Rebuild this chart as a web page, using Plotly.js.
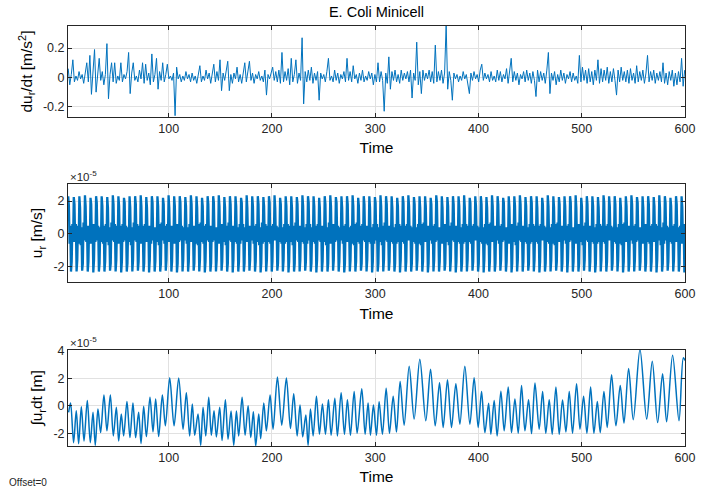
<!DOCTYPE html>
<html><head><meta charset="utf-8">
<script src="https://cdn.plot.ly/plotly-3.0.1.min.js"></script>
<style>html,body{margin:0;padding:0;background:#fff}#chart{width:710px;height:488px}</style>
</head><body><div id="chart"></div>
<script>
// ---------------- data ----------------
const chartTitle = "E. Coli Minicell";
const xTickVals = [100, 200, 300, 400, 500, 600];
const xTickText = ["100", "200", "300", "400", "500", "600"];
const accelTickVals = [-0.2, 0, 0.2];
const accelTickText = ["-0.2", "0", "0.2"];
const velTickVals = [-2, 0, 2];
const velTickText = ["-2", "0", "2"];
const posTickVals = [-2, 0, 2, 4];
const posTickText = ["-2", "0", "2", "4"];

// du_r/dt [m/s^2], sampled from t = 2.7 s every 1.5 s
const accelStart = 2.7, accelStep = 1.5;
const accel = [
 .06,-.05,.02,.12,-.03,.01,-.02,.04,-.01,.02,-.04,.02,.1,-.03,.15,-.115,.03,.19,-.1,.02,
 .13,-.02,.04,-.05,.02,.23,-.145,.02,.1,-.03,.1,-.04,.01,-.02,.1,-.03,.02,-.01,.04,.17,
 -.11,.03,.1,-.02,.01,-.03,.05,-.01,.1,-.04,.09,-.02,.03,-.05,.16,-.03,.02,.13,-.08,.04,
 -.02,.1,-.03,.02,.09,-.01,.01,-.02,.03,-.26,.07,-.01,.02,-.03,.01,-.02,.04,-.01,.02,-.03,
 .03,-.02,.01,-.04,.02,.08,-.03,.01,-.02,.05,-.01,.03,-.04,.02,.09,-.03,.04,-.02,.12,-.09,
 .03,-.02,.05,.11,-.09,.02,-.04,.03,-.01,.07,-.03,.02,-.04,.05,.1,-.03,.04,.11,-.02,.03,
 -.04,.02,-.01,.04,-.02,.01,-.03,.05,-.12,.02,-.01,.03,.07,-.02,.04,-.03,.05,-.04,.17,-.03,
 .04,-.02,.06,-.05,.13,-.03,.02,.12,-.04,.03,-.02,.27,-.18,.04,-.03,.05,-.02,.07,-.04,.03,
 -.02,.04,-.155,.03,-.01,.02,-.03,.04,.13,-.02,.01,-.03,.05,-.02,.03,-.04,.02,-.01,.04,-.03,
 .13,-.02,.04,-.03,.08,-.01,.02,-.04,.03,-.02,.05,-.03,.01,-.02,.04,-.01,.03,-.05,.02,-.03,
 .1,-.03,.04,-.02,-.23,.03,-.04,.14,-.08,.04,-.02,.05,-.03,.02,-.04,.05,-.02,.03,-.01,.04,
 -.03,.05,-.14,.03,-.02,.24,-.05,.04,-.11,.05,-.02,.03,-.01,.05,-.03,.04,-.04,.22,-.03,.04,
 -.02,.05,-.04,.03,.36,-.08,.04,-.02,-.155,.03,-.01,.02,-.03,.01,-.02,.04,-.01,.02,-.04,-.11,
 .03,-.02,.04,-.01,.02,-.03,.05,.09,-.02,.03,-.01,.02,-.03,.04,-.02,.01,-.03,.05,-.02,.04,
 -.03,.02,-.01,.06,-.04,.03,.13,-.03,.04,-.02,.03,-.05,.02,-.01,.04,-.03,.05,-.02,.03,-.04,
 .04,-.02,-.13,.05,-.03,.04,-.02,.03,-.04,.05,.17,-.11,.03,-.02,.04,-.05,.02,-.03,.05,-.02,
 .03,-.04,.02,-.01,.04,-.03,.03,-.02,.01,-.04,.15,-.03,.07,-.02,.05,-.04,.06,-.03,.04,-.05,
 .05,-.02,.12,-.04,.06,-.03,.05,-.02,.07,-.04,.04,-.03,.06,-.02,-.12,.05,-.03,.07,-.02,.04,
 -.03,.05,-.04,.06,-.02,.03,-.04,.08,-.03,.04,-.02,.05,-.04,.03,.15,-.03,.04,-.02,.05,-.04,
 .03,-.02,.04,-.03,.1,-.04,.03,-.05,.04,-.02,.05,-.06,.03,-.05,.04,-.03,.13,-.06,.05
];

// u_r [x1e-5 m/s], sampled from t = 2.7 s every 0.675 s
const velStart = 2.7, velStep = 0.675;
const velocity_e5 = [
 2.3,1.7,-.6,.5,-2.3,-1.7,.6,-.5, 2.25,1.8,-.5,.6,-2.3,-1.6,.5,-.6, 2.3,1.6,-.7,.4,-2.25,-1.8,.7,-.4, 2.35,1.7,-.5,.5,-2.3,-1.7,.5,-.6,
 2.2,1.8,-.6,.6,-2.35,-1.6,.6,-.5, 2.3,1.9,-.4,.5,-2.3,-1.8,.4,-.5, 2.3,1.7,-.6,.5,-2.3,-1.7,.6,-.5, 2.25,1.6,-.7,.4,-2.25,-1.8,.7,-.4,
 2.35,1.8,-.5,.6,-2.3,-1.6,.5,-.6, 2.3,1.7,-.6,.5,-2.35,-1.7,.6,-.5, 2.2,1.9,-.4,.5,-2.3,-1.8,.4,-.5, 2.3,1.6,-.7,.4,-2.3,-1.6,.7,-.4,
 2.3,1.8,-.5,.6,-2.25,-1.7,.5,-.6, 2.35,1.7,-.6,.5,-2.3,-1.8,.6,-.5, 2.25,1.6,-.5,.5,-2.35,-1.6,.5,-.6, 2.3,1.9,-.4,.4,-2.3,-1.7,.4,-.5,
 2.3,1.7,-.7,.6,-2.3,-1.8,.7,-.4, 2.2,1.8,-.6,.5,-2.25,-1.6,.6,-.5, 2.35,1.6,-.5,.5,-2.3,-1.7,.5,-.6, 2.3,1.7,-.6,.6,-2.35,-1.8,.6,-.5,
 2.3,1.9,-.4,.5,-2.3,-1.6,.4,-.4, 2.25,1.7,-.6,.4,-2.3,-1.7,.6,-.5, 2.35,1.8,-.5,.5,-2.25,-1.8,.5,-.6, 2.3,1.6,-.7,.6,-2.3,-1.6,.7,-.5,
 2.2,1.7,-.6,.5,-2.35,-1.7,.6,-.4, 2.3,1.8,-.5,.5,-2.3,-1.8,.5,-.5, 2.3,1.9,-.4,.4,-2.3,-1.6,.4,-.6, 2.35,1.7,-.6,.6,-2.25,-1.7,.6,-.5,
 2.25,1.6,-.7,.5,-2.3,-1.8,.7,-.4, 2.3,1.8,-.5,.5,-2.35,-1.6,.5,-.5, 2.3,1.7,-.6,.4,-2.3,-1.7,.6,-.6, 2.2,1.9,-.4,.6,-2.3,-1.8,.4,-.5,
 2.35,1.6,-.5,.5,-2.25,-1.6,.5,-.4, 2.3,1.7,-.6,.5,-2.3,-1.7,.6,-.5, 2.3,1.8,-.7,.4,-2.35,-1.8,.7,-.6, 2.25,1.7,-.5,.6,-2.3,-1.6,.5,-.5,
 2.3,1.9,-.6,.5,-2.3,-1.7,.6,-.4, 2.35,1.6,-.4,.5,-2.25,-1.8,.4,-.5, 2.2,1.8,-.6,.4,-2.3,-1.6,.6,-.6, 2.3,1.7,-.5,.6,-2.35,-1.7,.5,-.5,
 2.3,1.6,-.7,.5,-2.3,-1.8,.7,-.4, 2.25,1.8,-.5,.5,-2.3,-1.6,.5,-.5, 2.35,1.7,-.6,.4,-2.25,-1.7,.6,-.6, 2.3,1.9,-.4,.6,-2.3,-1.8,.4,-.5,
 2.3,1.7,-.6,.5,-2.35,-1.6,.6,-.4, 2.2,1.6,-.5,.5,-2.3,-1.7,.5,-.5, 2.3,1.8,-.7,.4,-2.3,-1.8,.7,-.6, 2.35,1.7,-.6,.6,-2.25,-1.6,.6,-.5,
 2.25,1.9,-.4,.5,-2.3,-1.7,.4,-.4, 2.3,1.6,-.6,.5,-2.35,-1.8,.6,-.5, 2.3,1.8,-.5,.4,-2.3,-1.6,.5,-.6, 2.35,1.7,-.7,.6,-2.3,-1.7,.7,-.5,
 2.2,1.7,-.6,.5,-2.25,-1.8,.6,-.4, 2.3,1.8,-.5,.5,-2.3,-1.6,.5,-.5, 2.3,1.6,-.6,.4,-2.35,-1.7,.6,-.6, 2.25,1.9,-.4,.6,-2.3,-1.8,.4,-.5,
 2.35,1.7,-.7,.5,-2.3,-1.6,.7,-.4, 2.3,1.8,-.5,.5,-2.25,-1.7,.5,-.5, 2.3,1.6,-.6,.4,-2.3,-1.8,.6,-.6, 2.2,1.7,-.5,.6,-2.35,-1.6,.5,-.5,
 2.3,1.9,-.6,.5,-2.3,-1.7,.6,-.4, 2.35,1.7,-.4,.5,-2.3,-1.8,.4,-.5, 2.25,1.8,-.6,.4,-2.25,-1.6,.6,-.6, 2.3,1.6,-.7,.6,-2.3,-1.7,.7,-.5,
 2.3,1.7,-.5,.5,-2.35,-1.8,.5,-.4, 2.2,1.8,-.6,.5,-2.3,-1.6,.6,-.5, 2.35,1.9,-.4,.4,-2.3,-1.7,.4,-.6, 2.3,1.6,-.6,.6,-2.25,-1.8,.6,-.5,
 2.25,1.7,-.7,.5,-2.3,-1.6,.7,-.4, 2.3,1.8,-.5,.5,-2.35,-1.7,.5,-.5, 2.3,1.7,-.6,.4,-2.3,-1.8,.6,-.6, 2.35,1.6,-.5,.6,-2.3,-1.6,.5,-.5,
 2.2,1.9,-.6,.5,-2.25,-1.7,.6,-.4, 2.3,1.7,-.4,.5,-2.3,-1.8,.4,-.5, 2.3,1.8,-.6,.4,-2.35,-1.6,.6,-.6, 2.25,1.6,-.7,.6,-2.3,-1.7,.7,-.5,
 2.35,1.7,-.5,.5,-2.3,-1.8,.5,-.4, 2.3,1.8,-.6,.5,-2.25,-1.6,.6,-.5, 2.2,1.9,-.4,.4,-2.3,-1.7,.4,-.6, 2.3,1.6,-.6,.6,-2.35,-1.8,.6,-.5,
 2.3,1.7,-.7,.5,-2.3,-1.6,.7,-.4, 2.35,1.8,-.5,.5,-2.3,-1.7,.5,-.5, 2.25,1.7,-.6,.4,-2.25,-1.8,.6,-.6, 2.3,1.9,-.5,.6,-2.3,-1.6,.5,-.5,
 2.3,1.6,-.6,.5,-2.35,-1.7,.6,-.4, 2.2,1.8,-.4,.5,-2.3,-1.8,.4,-.5, 2.35,1.7,-.6,.4,-2.3,-1.6,.6,-.6, 2.3,1.6,-.7,.6,-2.25,-1.7,.7,-.5,
 2.25,1.8,-.5,.5,-2.3,-1.8,.5,-.4, 2.3,1.7,-.6,.5,-2.35,-1.6,.6,-.5, 2.3,1.9,-.4,.4,-2.3,-1.7,.4,-.6, 2.35,1.6,-.6,.6,-2.3,-1.8,.6,-.5,
 2.2,1.7,-.7,.5,-2.25,-1.6,.7,-.4, 2.3,1.8,-.5,.5,-2.3,-1.7,.5,-.5, 2.3,1.7,-.6,.4,-2.35,-1.8,.6,-.6, 2.25,1.6,-.5,.6,-2.3,-1.6,.5,-.5,
 2.35,1.9,-.6,.5,-2.3,-1.7,.6,-.4, 2.3,1.7,-.4,.5,-2.25,-1.8,.4,-.5, 2.3,1.8,-.6,.4,-2.3,-1.6,.6,-.6, 2.2,1.6,-.7,.6,-2.35,-1.7,.7,-.5,
 2.3,1.7,-.5,.5,-2.3,-1.8,.5,-.4, 2.35,1.8,-.6,.5,-2.3,-1.6,.6,-.5, 2.25,1.9,-.4,.4,-2.25,-1.7,.4,-.6, 2.3,1.6,-.6,.6,-2.3,-1.8,.6,-.5,
 2.3,1.8,-.6,.5,-2.3,-1.7,.6,-.5, 2.25,1.7,-.5,.6,-2.35,-1.6,.5,-.4, 2.35,1.6,-.7,.4,-2.3,-1.8,.7,-.6, 2.3,1.9,-.4,.5,-2.25,-1.7,.4,-.5,
 2.2,1.7,-.6,.5,-2.3,-1.6,.6,-.5, 2.3,1.8,-.5,.4,-2.3,-1.8,.5,-.6, 2.3,1.6,-.6,.6,-2.35,-1.7,.6,-.4, 2.35,1.7,-.7,.5,-2.3,-1.6,.7,-.5
];

// ∫u_r dt [x1e-5 m]: successive extremes (time [s], value)
const posTime = [
 3.1,5.0,7.9,10.5,12.8,15.4,18.0,21.2,24.1,26.7,28.9,31.5,34.1,37.3,40.2,43.5,46.4,49.3,51.6,54.1,
 56.4,59.6,62.5,65.4,68.0,70.9,73.2,75.8,78.4,81.9,84.8,87.4,90.3,93.9,96.8,101.0,105.2,109.7,113.9,117.1,
 120.3,122.9,125.2,128.4,131.0,133.3,135.9,138.8,141.3,143.9,146.2,149.4,151.7,154.9,157.5,160.4,163.0,165.6,167.8,171.1,
 174.0,176.9,179.5,182.0,184.3,187.2,189.1,192.1,194.6,198.2,201.1,205.3,209.5,214.0,217.9,221.1,224.4,227.2,229.8,232.8,
 235.0,237.3,239.9,243.1,246.0,248.9,251.8,254.7,257.3,260.9,263.4,267.0,270.2,273.1,276.0,279.6,282.5,287.0,290.2,293.1,
 295.4,298.3,301.2,303.8,307.0,310.6,313.8,317.4,320.6,324.1,328.0,332.9,337.7,343.2,349.0,353.6,358.1,362.3,365.8,370.0,
 373.9,378.1,382.0,386.8,391.7,395.8,399.7,403.0,406.2,409.8,412.0,415.2,418.1,421.7,424.9,428.8,432.0,435.3,438.5,441.7,
 445.0,448.5,451.4,454.7,458.8,462.1,465.2,468.5,471.4,475.0,478.2,481.4,484.7,487.9,491.1,495.0,498.3,501.8,505.0,508.6,
 511.8,515.1,517.9,521.5,524.7,528.9,533.1,537.3,540.9,545.4,549.9,556.4,562.9,568.3,573.5,578.3,582.2,588.0,594.2,598.4,
 600.0
];
const position_e5 = [
 -0.46,0.22,-2.66,-0.34,-2.73,-0.05,-2.54,0.39,-2.66,-0.46,-2.85,-0.22,-1.93,0.80,-1.80,0.80,-2.17,-0.10,-2.54,-0.59,
 -2.17,0.32,-2.29,0.22,-2.29,-0.46,-2.73,-0.02,-2.22,0.63,-1.88,0.51,-2.22,0.80,-1.44,2.05,-1.44,2.02,-1.68,0.95,
 -2.17,0.15,-2.12,-0.59,-2.85,-0.10,-2.17,0.63,-2.12,-0.34,-2.24,-0.10,-2.50,0.46,-2.41,-0.37,-2.85,-0.37,-2.17,0.63,
 -2.12,0.02,-2.29,-0.41,-2.90,-0.59,-2.37,0.22,-1.80,0.80,-1.68,2.10,-1.39,2.02,-1.63,0.88,-2.17,0.07,-2.24,-0.66,
 -2.85,-0.22,-2.17,0.71,-2.05,0.15,-2.05,0.46,-2.12,0.56,-2.17,0.95,-2.05,0.46,-2.12,1.05,-1.98,1.24,-2.05,0.22,
 -2.12,0.07,-2.12,0.30,-2.05,1.29,-1.98,0.71,-1.88,1.78,-1.39,2.88,-0.95,3.39,-1.07,2.66,-1.44,1.68,-1.56,1.90,
 -1.56,1.61,-1.32,2.88,-1.32,2.05,-1.56,1.05,-1.93,0.20,-2.05,0.39,-2.17,1.07,-1.80,1.37,-1.93,0.51,-1.98,1.49,
 -1.80,0.46,-2.00,1.66,-1.68,1.05,-1.98,0.46,-2.05,1.37,-2.05,0.44,-1.88,1.05,-1.98,1.61,-1.68,0.71,-1.98,1.37,
 -1.98,0.32,-1.93,1.05,-1.56,2.27,-1.44,1.49,-1.24,2.71,-1.00,4.10,-0.95,3.24,-1.20,2.34,-1.15,3.68,-1.07,3.49,
 3.30
];

// ---------------- chart ----------------
const FONT = "Liberation Sans, Arial, Helvetica, sans-serif";
const AX = "#262626";
const BLUE = "#0072BD";
const accelTime = accel.map((_, i) => accelStart + i * accelStep);
const velTime = velocity_e5.map((_, i) => velStart + i * velStep);

const traces = [
  {x: accelTime, y: accel, xaxis: "x", yaxis: "y", type: "scatter", mode: "lines",
   line: {color: BLUE, width: 1}, hoverinfo: "skip"},
  {x: velTime, y: velocity_e5, xaxis: "x2", yaxis: "y2", type: "scatter", mode: "lines",
   line: {color: BLUE, width: 2.3}, hoverinfo: "skip"},
  {x: posTime, y: position_e5, xaxis: "x3", yaxis: "y3", type: "scatter", mode: "lines",
   line: {color: BLUE, width: 1.5, shape: "spline", smoothing: 0.9}, hoverinfo: "skip"}
];

function xAxis(anchor) {
  return {
    anchor: anchor, domain: [0, 1], range: [2.5, 600],
    tickvals: xTickVals, ticktext: xTickText,
    ticks: "inside", ticklen: 4, tickcolor: AX, tickwidth: 1,
    showline: true, linecolor: AX, linewidth: 1, mirror: "ticks",
    showgrid: true, gridcolor: "#e1e1e1", gridwidth: 1, zeroline: false,
    tickfont: {family: FONT, size: 12.5, color: AX},
    title: {text: "Time", font: {family: FONT, size: 15.5, color: "#000"}, standoff: 7}
  };
}
function yAxis(anchor, domain, range, tv, tt, title) {
  return {
    anchor: anchor, domain: domain, range: range,
    tickvals: tv, ticktext: tt,
    ticks: "inside", ticklen: 4, tickcolor: AX, tickwidth: 1,
    showline: true, linecolor: AX, linewidth: 1, mirror: "ticks",
    showgrid: true, gridcolor: "#e1e1e1", gridwidth: 1, zeroline: false,
    tickfont: {family: FONT, size: 12.5, color: AX},
    title: {text: title, font: {family: FONT, size: 15.5, color: "#000"}, standoff: 6}
  };
}

const layout = {
  width: 710, height: 488,
  margin: {l: 68, r: 25, t: 26, b: 42},
  paper_bgcolor: "#fff", plot_bgcolor: "#fff",
  showlegend: false,
  font: {family: FONT, color: AX},
  title: {text: chartTitle, font: {family: FONT, size: 14.5, color: "#000"},
          x: 0.5, xref: "paper", y: 0.975, yref: "container", yanchor: "middle"},
  xaxis: xAxis("y"),
  xaxis2: xAxis("y2"),
  xaxis3: xAxis("y3"),
  yaxis: yAxis("x", [0.783, 1], [-0.27, 0.35], accelTickVals, accelTickText,
               "du<sub>r</sub>/dt [m/s<sup>2</sup>]"),
  yaxis2: yAxis("x2", [0.390, 0.624], [-2.95, 3.05], velTickVals, velTickText,
                "u<sub>r</sub> [m/s]"),
  yaxis3: yAxis("x3", [0, 0.229], [-2.9, 4.07], posTickVals, posTickText,
                "\u222Bu<sub>r</sub>dt [m]"),
  annotations: [
    {text: "\u00D710<sup>-5</sup>", xref: "paper", yref: "paper", x: 0, y: 0.624,
     xanchor: "left", yanchor: "bottom", showarrow: false, yshift: -1,
     font: {family: FONT, size: 11.5, color: AX}},
    {text: "\u00D710<sup>-5</sup>", xref: "paper", yref: "paper", x: 0, y: 0.229,
     xanchor: "left", yanchor: "bottom", showarrow: false, yshift: -1,
     font: {family: FONT, size: 11.5, color: AX}},
    {text: "Offset=0", xref: "paper", yref: "paper", x: -0.099, y: -0.086,
     xanchor: "left", yanchor: "middle", showarrow: false,
     font: {family: FONT, size: 10, color: AX}}
  ]
};

Plotly.newPlot("chart", traces, layout, {staticPlot: true, displayModeBar: false});
</script>
</body></html>
